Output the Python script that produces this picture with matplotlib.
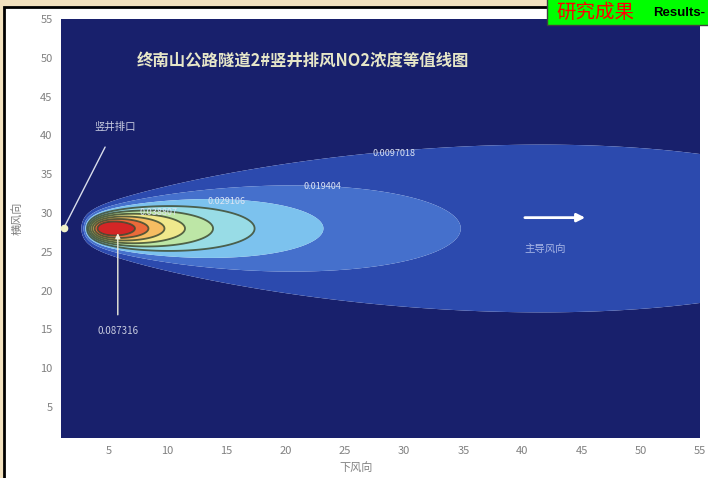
import numpy as np
import matplotlib
matplotlib.use("Agg")
import matplotlib.pyplot as plt
from matplotlib.colors import ListedColormap, BoundaryNorm
from matplotlib.patches import Rectangle

plt.rcParams['font.family'] = ['Noto Sans CJK SC', 'DejaVu Sans']

# ---- chart values ----
title = "终南山公路隧道2#竖井排风NO2浓度等值线图"
xlabel = "下风向"
ylabel = "横风向"
xticks = [5, 10, 15, 20, 25, 30, 35, 40, 45, 50, 55]
yticks = [5, 10, 15, 20, 25, 30, 35, 40, 45, 50, 55]
levels = [0.0097018, 0.019404, 0.029106, 0.038807, 0.048509,
          0.058211, 0.067913, 0.077614, 0.087316]
level_text = ["0.0097018", "0.019404", "0.029106", "0.038807", "0.048509",
              "0.058211", "0.067913", "0.077614", "0.087316"]
# labelled isolines: (level index, label x, label y)
label_idx = [0, 1, 2, 3]
label_x = [29.1, 23.1, 15.0, 9.2]
label_y = [37.7, 33.4, 31.5, 30.1]
peak_idx = 8

# plume parameters (ground-level NO2 from the shaft outlet)
src_x, src_y = 1.25, 28.1
axis_y = 28.0           # plume centreline
amp = 0.675             # strength factor
rise = 3.65             # near-field rise length
sig_rate = 0.249        # lateral spread per unit downwind distance
sig_base = 0.3          # initial lateral spread

band_colors = ['#18206c', '#2c4aae', '#4570cc', '#7cc2ee', '#98dce6',
               '#bde6a6', '#f0e88c', '#f6bd62', '#ec6a3a', '#d42626']

x = np.linspace(1, 55, 700)
y = np.linspace(1, 55, 700)
X, Y = np.meshgrid(x, y)
center = amp / X * np.exp(-(rise / X) ** 4)
sig = sig_rate * X + sig_base
C = center * np.exp(-(Y - axis_y) ** 2 / (2 * sig ** 2))

W, H = 708, 478
fig = plt.figure(figsize=(W / 100, H / 100), dpi=100)
fig.patch.set_facecolor('#f3e2bf')

# white sheet with black frame
sheet = Rectangle((4 / W, -0.02), 1.05, (H - 7) / H + 0.02,
                  transform=fig.transFigure, facecolor='white',
                  edgecolor='black', linewidth=2, zorder=-5)
fig.add_artist(sheet)

ax = fig.add_axes([61 / W, (H - 438) / H, (700 - 61) / W, (438 - 19) / H])
ax.set_zorder(1)
bounds = [0.0] + levels + [1.0]
cmap = ListedColormap(band_colors)
norm = BoundaryNorm(bounds, cmap.N)
ax.contourf(X, Y, C, levels=bounds, cmap=cmap, norm=norm, antialiased=True)
ax.contour(X, Y, C, levels=levels[3:], colors='#3c4a30', linewidths=1.3, alpha=0.85)

ax.set_xlim(1, 55)
ax.set_ylim(1, 55)
ax.set_xticks(xticks)
ax.set_yticks(yticks)
ax.tick_params(length=0, labelsize=8, labelcolor='#808080', pad=6)
for s in ax.spines.values():
    s.set_visible(False)

ax.text(21.4, 49.6, title, color='#e6e6c8', fontsize=11.8, fontweight='bold',
        ha='center', va='center')

for i, lx, ly in zip(label_idx, label_x, label_y):
    ax.text(lx, ly, level_text[i], color='#dce4f4', fontsize=6.5,
            ha='center', va='center')

# outlet marker
ax.annotate("竖井排口", xy=(src_x, src_y), xytext=(5.6, 41.1),
            color='#c8cce0', fontsize=7.5, ha='center', va='center',
            arrowprops=dict(arrowstyle='-', color='#d8dcea', lw=1,
                            shrinkA=10, shrinkB=0))
ax.plot(src_x, src_y, 'o', color='#f2f2c8', ms=4.5, clip_on=False, zorder=5)

# peak concentration pointer
ax.annotate(level_text[peak_idx], xy=(5.8, 27.4), xytext=(5.8, 14.8),
            color='#c8cce0', fontsize=7, ha='center', va='center',
            arrowprops=dict(arrowstyle='-|>', color='#eeeedc', lw=1,
                            mutation_scale=7, shrinkA=6, shrinkB=0))

# prevailing wind direction
ax.annotate("", xy=(45.3, 29.4), xytext=(40.2, 29.4),
            arrowprops=dict(arrowstyle='-|>', color='white', lw=2,
                            mutation_scale=12, shrinkA=0, shrinkB=0))
ax.text(41.9, 25.4, "主导风向", color='#a8b6e6', fontsize=7.5,
        ha='center', va='center')

fig.text(356 / W, 1 - 467 / H, xlabel, color='#808080', fontsize=8,
         ha='center', va='center')
fig.text(17 / W, 1 - 218 / H, ylabel, color='#808080', fontsize=8,
         ha='center', va='center', rotation=90)

# section tag
tag = Rectangle((547 / W, (H - 25) / H), 0.3, 0.1,
                transform=fig.transFigure, facecolor='#00ff00',
                edgecolor='#404040', linewidth=1, zorder=3)
fig.add_artist(tag)
fig.text(556 / W, 1 - 12.5 / H, "研究成果", color='#ff0000', fontsize=14,
         ha='left', va='center', zorder=4)
fig.text(653 / W, 1 - 13 / H, "Results-", color='black', fontsize=9.5,
         fontweight='bold', family=['Liberation Sans', 'DejaVu Sans'],
         ha='left', va='center', zorder=4)

fig.savefig("out.png", dpi=100, facecolor=fig.get_facecolor())
